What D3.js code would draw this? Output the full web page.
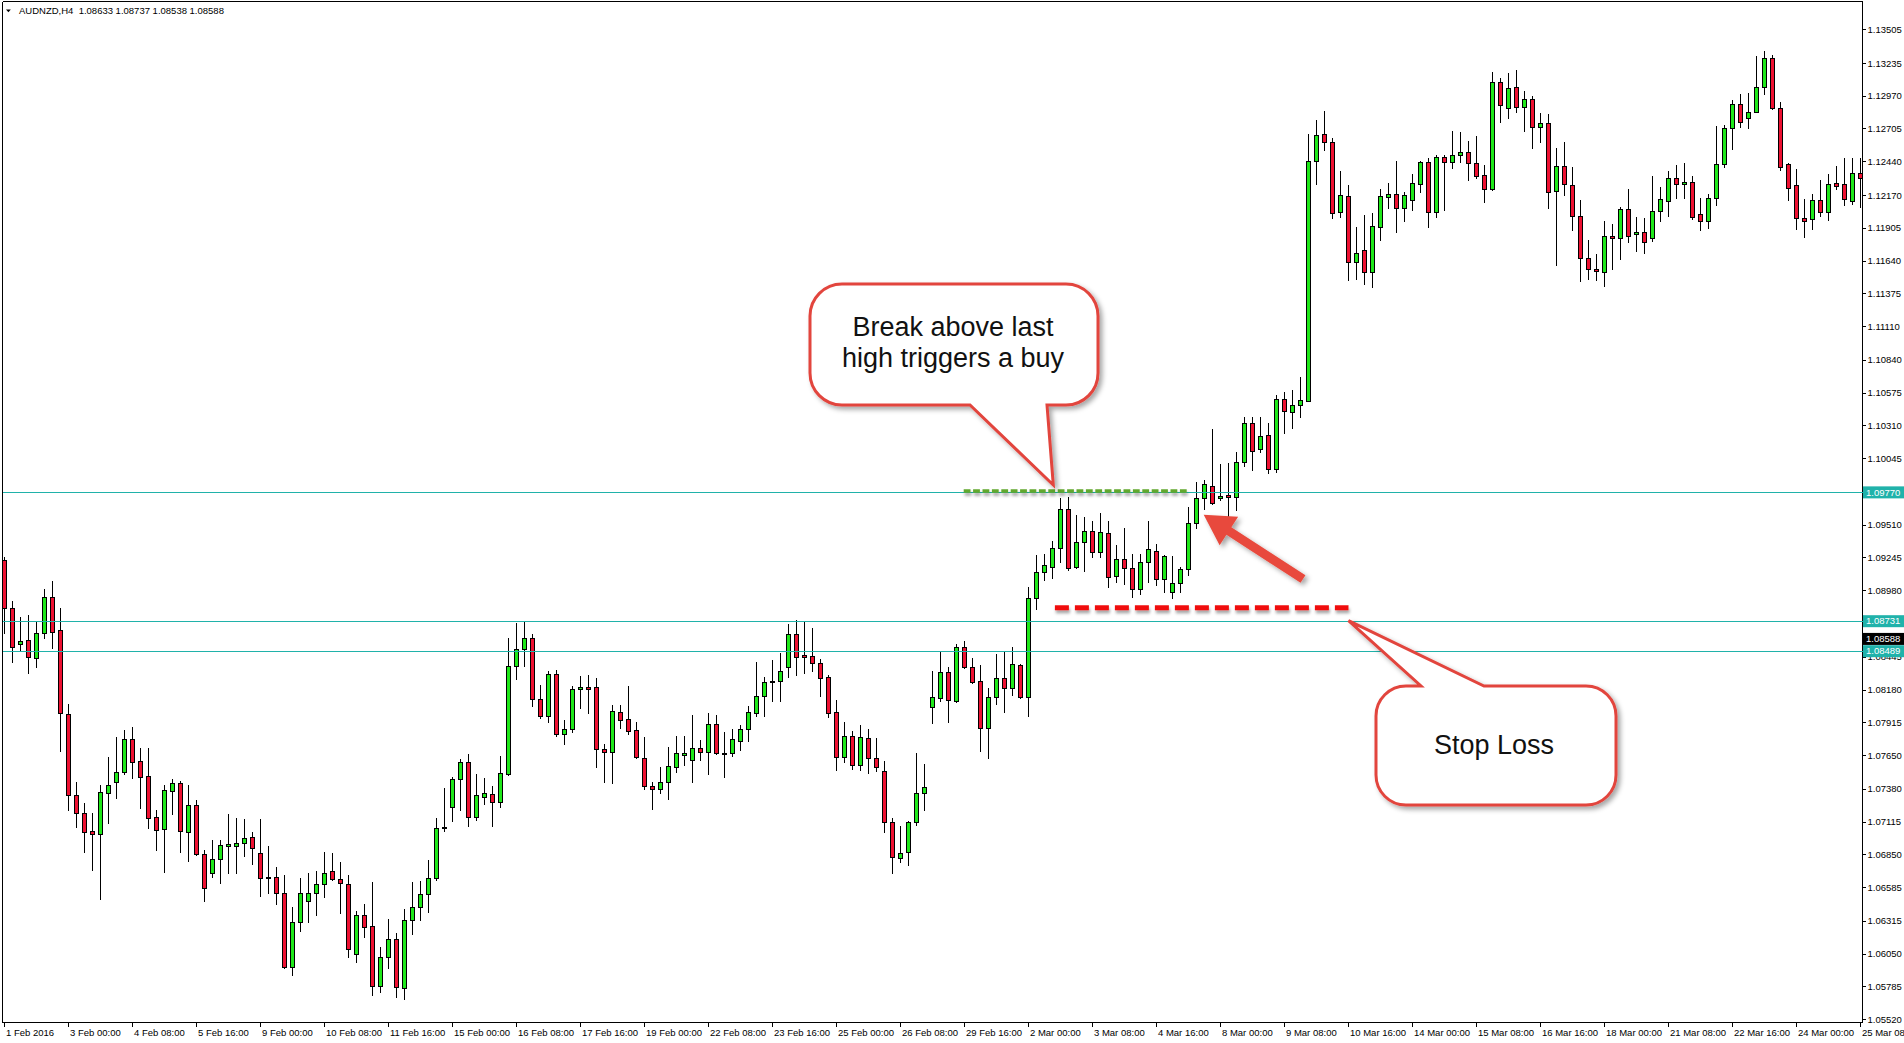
<!DOCTYPE html>
<html><head><meta charset="utf-8">
<script src="https://cdn.jsdelivr.net/npm/d3@7"></script>
<style>
html,body{margin:0;padding:0;background:#fff;overflow:hidden;}
svg{display:block;}
</style></head><body>
<svg id="chart" width="1904" height="1043"></svg>
<script>
// ---------------- data ----------------
const symbolTitle = "AUDNZD,H4";
const titleValues = ["1.08633", "1.08737", "1.08538", "1.08588"];

const open = [
1.09224,1.08834,1.08544,1.08576,1.08436,1.08632,1.08923,1.08659,1.07979,1.07328,
1.07180,1.07038,1.07011,1.07342,1.07430,1.07511,1.07780,1.07603,1.07482,1.07148,
1.07051,1.07363,1.07422,1.07032,1.07248,1.06850,1.06702,1.06809,1.06920,1.06920,
1.06944,1.06987,1.06858,1.06667,1.06664,1.06535,1.05943,1.06306,1.06476,1.06535,
1.06608,1.06715,1.06651,1.06608,1.06043,1.06360,1.06271,1.05790,1.06019,1.06164,
1.05769,1.06320,1.06422,1.06527,1.06656,1.07059,1.07229,1.07455,1.07592,1.07153,
1.07317,1.07334,1.07274,1.07500,1.08366,1.08503,1.08592,1.08100,1.07968,1.08302,
1.07818,1.07858,1.08181,1.08197,1.08197,1.07699,1.07672,1.08000,1.07946,1.07850,
1.07629,1.07403,1.07376,1.07430,1.07551,1.07653,1.07610,1.07712,1.07672,1.07898,
1.07667,1.07664,1.07764,1.07858,1.07992,1.08127,1.08237,1.08245,1.08358,1.08624,
1.08457,1.08452,1.08390,1.08277,1.08000,1.07637,1.07807,1.07570,1.07790,1.07624,
1.07524,1.07113,1.06817,1.06871,1.07113,1.07347,1.08040,1.08113,1.08323,1.08089,
1.08524,1.08358,1.08250,1.07866,1.08116,1.08269,1.08196,1.08377,1.08121,1.08922,
1.09130,1.09170,1.09318,1.09632,1.09170,1.09366,1.09460,1.09291,1.09439,1.09097,
1.09229,1.09164,1.08987,1.09210,1.09299,1.09068,1.08963,1.09043,1.09154,1.09527,
1.09721,1.09823,1.09721,1.09748,1.09734,1.10011,1.10326,1.10116,1.10232,1.09955,
1.10520,1.10420,1.10474,1.10509,1.12445,1.12657,1.12600,1.12028,1.12160,1.11630,
1.11724,1.11544,1.11913,1.12149,1.12173,1.12060,1.12128,1.12254,1.12437,1.12033,
1.12472,1.12431,1.12488,1.12512,1.12423,1.12329,1.12214,1.13077,1.12867,1.13036,
1.12881,1.12942,1.12719,1.12746,1.12203,1.12402,1.12249,1.11998,1.11663,1.11571,
1.11544,1.11837,1.11818,1.12055,1.11851,1.11867,1.11824,1.12042,1.12122,1.12302,
1.12254,1.12276,1.12015,1.11958,1.12141,1.12418,1.12706,1.12899,1.12792,1.12840,
1.13042,1.13270,1.12867,1.12418,1.12246,1.11985,1.11974,1.12125,1.12033,1.12262,
1.12254,1.12122,1.12343
];
const high = [
1.09251,1.08893,1.08767,1.08780,1.08727,1.08990,1.09055,1.08839,1.08060,1.07430,
1.07266,1.07180,1.07409,1.07635,1.07796,1.07853,1.07874,1.07705,1.07705,1.07205,
1.07409,1.07457,1.07441,1.07409,1.07285,1.06885,1.06965,1.06965,1.07172,1.07140,
1.07135,1.07027,1.07135,1.06917,1.06747,1.06683,1.06427,1.06661,1.06696,1.06715,
1.06871,1.06863,1.06790,1.06683,1.06392,1.06454,1.06629,1.06105,1.06328,1.06218,
1.06409,1.06629,1.06634,1.06804,1.07140,1.07387,1.07476,1.07619,1.07656,1.07495,
1.07468,1.07404,1.07646,1.08592,1.08716,1.08727,1.08624,1.08216,1.08329,1.08337,
1.07933,1.08208,1.08288,1.08296,1.08269,1.07740,1.08054,1.08059,1.08207,1.07919,
1.07798,1.07435,1.07556,1.07718,1.07804,1.07807,1.07973,1.07772,1.07987,1.07973,
1.07839,1.07860,1.07893,1.08046,1.08403,1.08282,1.08417,1.08471,1.08705,1.08740,
1.08726,1.08680,1.08430,1.08301,1.08092,1.07914,1.07847,1.07893,1.07858,1.07790,
1.07602,1.07140,1.07078,1.07118,1.07664,1.07583,1.08331,1.08484,1.08358,1.08546,
1.08570,1.08436,1.08377,1.08194,1.08463,1.08479,1.08519,1.08382,1.09009,1.09264,
1.09269,1.09377,1.09721,1.09735,1.09587,1.09573,1.09538,1.09600,1.09538,1.09345,
1.09479,1.09269,1.09272,1.09538,1.09353,1.09264,1.09259,1.09170,1.09654,1.09850,
1.09869,1.10280,1.10000,1.10010,1.10097,1.10380,1.10380,1.10380,1.10326,1.10555,
1.10581,1.10595,1.10702,1.12657,1.12773,1.12846,1.12630,1.12362,1.12249,1.11912,
1.12007,1.12020,1.12216,1.12267,1.12442,1.12195,1.12337,1.12442,1.12464,1.12491,
1.12491,1.12684,1.12679,1.12604,1.12647,1.12410,1.13163,1.13109,1.13155,1.13176,
1.13007,1.12967,1.12832,1.12821,1.12544,1.12598,1.12394,1.12128,1.11805,1.11689,
1.11958,1.11931,1.12068,1.12216,1.11993,1.11980,1.12321,1.12232,1.12362,1.12410,
1.12429,1.12324,1.12141,1.12173,1.12727,1.12733,1.12934,1.12980,1.12988,1.13289,
1.13330,1.13297,1.12921,1.12425,1.12378,1.12136,1.12173,1.12289,1.12337,1.12402,
1.12464,1.12464,1.12469
];
const low = [
1.08632,1.08398,1.08490,1.08315,1.08364,1.08597,1.08517,1.07686,1.07207,1.07073,
1.06866,1.06723,1.06489,1.07105,1.07307,1.07495,1.07463,1.07221,1.07065,1.06885,
1.06710,1.07178,1.06871,1.06798,1.06844,1.06476,1.06664,1.06621,1.06696,1.06702,
1.06839,1.06769,1.06516,1.06535,1.06446,1.05935,1.05876,1.06231,1.06306,1.06360,
1.06508,1.06643,1.06374,1.06024,1.05984,1.06185,1.05720,1.05742,1.05935,1.05701,
1.05683,1.06204,1.06320,1.06387,1.06643,1.07041,1.07119,1.07207,1.07081,1.07127,
1.07253,1.07081,1.07234,1.07490,1.08264,1.08372,1.08049,1.07947,1.07914,1.07807,
1.07740,1.07834,1.08027,1.07987,1.07557,1.07430,1.07422,1.07866,1.07825,1.07629,
1.07376,1.07220,1.07349,1.07293,1.07516,1.07570,1.07435,1.07610,1.07495,1.07660,
1.07476,1.07645,1.07691,1.07764,1.07968,1.07968,1.08086,1.08086,1.08282,1.08301,
1.08315,1.08331,1.08129,1.07960,1.07530,1.07597,1.07535,1.07530,1.07503,1.07521,
1.07027,1.06704,1.06785,1.06763,1.07086,1.07207,1.07906,1.08086,1.07919,1.08081,
1.08350,1.08229,1.07686,1.07629,1.08067,1.08000,1.08135,1.08108,1.07968,1.08828,
1.09062,1.09076,1.09210,1.09143,1.09156,1.09135,1.09251,1.09251,1.09009,1.09049,
1.09027,1.08928,1.08947,1.09049,1.09022,1.08968,1.08920,1.08968,1.09103,1.09484,
1.09632,1.09675,1.09708,1.09573,1.09627,1.09984,1.09950,1.10097,1.09928,1.09936,
1.10251,1.10291,1.10380,1.10505,1.12257,1.12531,1.11985,1.11993,1.11482,1.11490,
1.11447,1.11428,1.11805,1.12066,1.11872,1.11958,1.12047,1.12195,1.11912,1.11993,
1.12047,1.12388,1.12437,1.12289,1.12302,1.12114,1.12208,1.12760,1.12792,1.12840,
1.12684,1.12550,1.12598,1.12066,1.11603,1.12168,1.11886,1.11477,1.11490,1.11482,
1.11437,1.11571,1.11652,1.11791,1.11719,1.11703,1.11797,1.11961,1.12001,1.12141,
1.12141,1.11974,1.11886,1.11904,1.12087,1.12397,1.12539,1.12719,1.12711,1.12835,
1.12983,1.12860,1.12370,1.12128,1.11894,1.11832,1.11894,1.12001,1.11966,1.12216,
1.12087,1.12093,1.12074
];
const close = [
1.08834,1.08525,1.08573,1.08444,1.08632,1.08923,1.08646,1.07987,1.07328,1.07180,
1.07032,1.07011,1.07350,1.07409,1.07511,1.07780,1.07597,1.07476,1.07145,1.07043,
1.07366,1.07422,1.07038,1.07248,1.06850,1.06575,1.06812,1.06925,1.06930,1.06946,
1.06979,1.06898,1.06656,1.06661,1.06535,1.05943,1.06306,1.06535,1.06535,1.06608,
1.06704,1.06648,1.06616,1.06091,1.06360,1.06266,1.05790,1.06019,1.06164,1.05782,
1.06320,1.06422,1.06527,1.06656,1.07059,1.07075,1.07455,1.07592,1.07153,1.07328,
1.07344,1.07269,1.07503,1.08366,1.08503,1.08592,1.08100,1.07968,1.08302,1.07818,
1.07861,1.08181,1.08197,1.08181,1.07699,1.07672,1.08006,1.07938,1.07847,1.07637,
1.07403,1.07376,1.07430,1.07562,1.07664,1.07664,1.07712,1.07672,1.07898,1.07664,
1.07661,1.07777,1.07858,1.07995,1.08127,1.08242,1.08245,1.08331,1.08624,1.08444,
1.08444,1.08390,1.08269,1.07987,1.07637,1.07807,1.07570,1.07793,1.07624,1.07556,
1.07113,1.06830,1.06865,1.07113,1.07347,1.07395,1.08116,1.08323,1.08092,1.08524,
1.08358,1.08242,1.07866,1.08116,1.08269,1.08196,1.08382,1.08121,1.08920,1.09130,
1.09183,1.09318,1.09632,1.09156,1.09366,1.09460,1.09291,1.09447,1.09084,1.09229,
1.09164,1.08990,1.09210,1.09310,1.09068,1.09256,1.09043,1.09154,1.09527,1.09721,
1.09834,1.09681,1.09743,1.09729,1.10017,1.10326,1.10105,1.10224,1.09955,1.10520,
1.10428,1.10474,1.10512,1.12442,1.12652,1.12598,1.12025,1.12165,1.11630,1.11697,
1.11549,1.11918,1.12160,1.12176,1.12060,1.12168,1.12267,1.12437,1.12033,1.12472,
1.12437,1.12491,1.12512,1.12423,1.12324,1.12214,1.13077,1.12894,1.13028,1.12881,
1.12942,1.12719,1.12746,1.12189,1.12402,1.12254,1.12001,1.11657,1.11568,1.11558,
1.11837,1.11818,1.12055,1.11840,1.11872,1.11786,1.12039,1.12136,1.12302,1.12254,
1.12276,1.11993,1.11958,1.12141,1.12418,1.12706,1.12899,1.12760,1.12835,1.13036,
1.13270,1.12867,1.12397,1.12222,1.11980,1.11961,1.12125,1.12033,1.12254,1.12243,
1.12133,1.12343,1.12308
];

const xTickLabels = [
"1 Feb 2016","3 Feb 00:00","4 Feb 08:00","5 Feb 16:00","9 Feb 00:00","10 Feb 08:00",
"11 Feb 16:00","15 Feb 00:00","16 Feb 08:00","17 Feb 16:00","19 Feb 00:00","22 Feb 08:00",
"23 Feb 16:00","25 Feb 00:00","26 Feb 08:00","29 Feb 16:00","2 Mar 00:00","3 Mar 08:00",
"4 Mar 16:00","8 Mar 00:00","9 Mar 08:00","10 Mar 16:00","14 Mar 00:00","15 Mar 08:00",
"16 Mar 16:00","18 Mar 00:00","21 Mar 08:00","22 Mar 16:00","24 Mar 00:00","25 Mar 08:00"
];
const yTickValues = [
1.13505,1.13235,1.12970,1.12705,1.12440,1.12170,1.11905,1.11640,1.11375,1.11110,
1.10840,1.10575,1.10310,1.10045,1.09775,1.09510,1.09245,1.08980,1.08715,1.08445,
1.08180,1.07915,1.07650,1.07380,1.07115,1.06850,1.06585,1.06315,1.06050,1.05785,1.05520
];
const levelLines = [1.09770, 1.08731, 1.08489];
const bidPrice = 1.08588;
const breakLevel = 1.09781;
const stopLevel = 1.08840;
const calloutTexts = [["Break above last", "high triggers a buy"], ["Stop Loss"]];

// ---------------- layout ----------------
const W = 1904, H = 1043;
const plotLeft = 2.5, plotTop = 1.5, axisX = 1862.5, axisY = 1022.5;
const svg = d3.select("#chart");
const FONT = "'Liberation Sans', Arial, sans-serif";
const BULL = "#1fe81a", BEAR = "#ee1132", TEAL = "#20b2aa";

const x = d3.scaleLinear().domain([0, open.length - 1]).range([4.5, 1860.5]);
const y = d3.scaleLinear().domain([1.05520, 1.13505]).range([1019.3, 29.3]);

const defs = svg.append("defs");
const sh = defs.append("filter").attr("id", "shadow").attr("x", "-20%").attr("y", "-20%").attr("width", "150%").attr("height", "150%");
sh.append("feDropShadow").attr("dx", 3).attr("dy", 3).attr("stdDeviation", 2.5).attr("flood-color", "#000").attr("flood-opacity", 0.35);
const sh2 = defs.append("filter").attr("id", "shadow2").attr("filterUnits", "userSpaceOnUse")
  .attr("x", 0).attr("y", 0).attr("width", W).attr("height", H);
sh2.append("feDropShadow").attr("dx", 1).attr("dy", 3).attr("stdDeviation", 1.8).attr("flood-color", "#000").attr("flood-opacity", 0.35);

// frame
svg.append("rect").attr("width", W).attr("height", H).attr("fill", "#fff");
const frame = svg.append("g").attr("stroke", "#000").attr("stroke-width", 1).attr("shape-rendering", "crispEdges");
frame.append("line").attr("x1", plotLeft).attr("x2", plotLeft).attr("y1", plotTop).attr("y2", axisY);
frame.append("line").attr("x1", plotLeft).attr("x2", axisX).attr("y1", plotTop).attr("y2", plotTop);
frame.append("line").attr("x1", axisX).attr("x2", axisX).attr("y1", plotTop).attr("y2", axisY);
frame.append("line").attr("x1", plotLeft).attr("x2", axisX).attr("y1", axisY).attr("y2", axisY);

// title
svg.append("path").attr("d", "M6,9.5 L10.8,9.5 L8.4,12.3 Z").attr("fill", "#000");
svg.append("text").attr("x", 19).attr("y", 13.5).attr("font-family", FONT).attr("font-size", 9.5).attr("fill", "#000")
  .attr("xml:space", "preserve")
  .text(symbolTitle + "  " + titleValues.join(" "));

// candles
const bars = d3.range(open.length);
const cg = svg.append("g").attr("shape-rendering", "crispEdges");
cg.selectAll("line.wick").data(bars).join("line").attr("class", "wick")
  .attr("x1", i => x(i)).attr("x2", i => x(i))
  .attr("y1", i => Math.round(y(high[i]))).attr("y2", i => Math.round(y(low[i])) + 1)
  .attr("stroke", "#000").attr("stroke-width", 1);
cg.selectAll("rect.body").data(bars).join("rect").attr("class", "body")
  .attr("x", i => x(i) - 2).attr("width", 4)
  .attr("y", i => Math.round(y(Math.max(open[i], close[i]))) + 0.5)
  .attr("height", i => Math.max(0, Math.round(y(Math.min(open[i], close[i]))) - Math.round(y(Math.max(open[i], close[i])))))
  .attr("fill", i => close[i] > open[i] ? BULL : (close[i] < open[i] ? BEAR : "#000"))
  .attr("stroke", "#000").attr("stroke-width", 1);

// horizontal level lines
svg.append("g").attr("shape-rendering", "crispEdges").selectAll("line").data(levelLines).join("line")
  .attr("x1", plotLeft).attr("x2", axisX)
  .attr("y1", d => Math.round(y(d)) + 0.5).attr("y2", d => Math.round(y(d)) + 0.5)
  .attr("stroke", TEAL).attr("stroke-width", 1);

// right axis
const yAxis = d3.axisRight(y).tickValues(yTickValues).tickFormat(d3.format(".5f")).tickSize(3).tickPadding(2);
const ya = svg.append("g").attr("transform", `translate(${axisX},0)`).call(yAxis);
ya.select(".domain").remove();
ya.selectAll("line").attr("stroke", "#000").attr("shape-rendering", "crispEdges");
ya.selectAll("text").attr("font-family", FONT).attr("font-size", 9.5).attr("fill", "#000").attr("dy", "0.34em");

// bottom axis
const xTickIdx = xTickLabels.map((_, i) => i * 8);
const xAxis = d3.axisBottom(x).tickValues(xTickIdx).tickFormat((d, i) => xTickLabels[i]).tickSize(4);
const xa = svg.append("g").attr("transform", `translate(-1,${axisY})`).call(xAxis);
xa.select(".domain").remove();
xa.selectAll("line").attr("stroke", "#000").attr("shape-rendering", "crispEdges");
xa.selectAll("text").attr("font-family", FONT).attr("font-size", 9.5).attr("fill", "#000")
  .attr("text-anchor", "start").attr("x", 2).attr("y", 13).attr("dy", 0);

// axis price labels
function priceTag(v, bg) {
  const yy = y(v);
  svg.append("rect").attr("x", 1863).attr("y", yy - 6).attr("width", 41).attr("height", 12).attr("fill", bg);
  svg.append("text").attr("x", 1866).attr("y", yy).attr("dy", "0.34em").attr("font-family", FONT).attr("font-size", 9.5)
    .attr("fill", "#fff").text(d3.format(".5f")(v));
}
levelLines.forEach(v => priceTag(v, TEAL));
priceTag(bidPrice, "#000");

// ---------------- annotations ----------------
// green dashed break line
svg.append("line").attr("x1", x(119.9)).attr("x2", x(147.9)).attr("y1", y(breakLevel)).attr("y2", y(breakLevel))
  .attr("stroke", "#62a82e").attr("stroke-width", 3.5).attr("stroke-dasharray", "6.8,2.6").attr("filter", "url(#shadow2)");
// red dashed stop line
svg.append("line").attr("x1", x(131.3)).attr("x2", x(168)).attr("y1", y(stopLevel)).attr("y2", y(stopLevel))
  .attr("stroke", "#f01010").attr("stroke-width", 5).attr("stroke-dasharray", "14,6").attr("filter", "url(#shadow2)");

// callout builder
function bubble(x0, y0, x1, y1, r, ptr) {
  const p = d3.path();
  p.moveTo(x0 + r, y0);
  if (ptr.side === "top") { p.lineTo(ptr.a, y0); p.lineTo(ptr.tx, ptr.ty); p.lineTo(ptr.b, y0); }
  p.lineTo(x1 - r, y0);
  p.arcTo(x1, y0, x1, y0 + r, r);
  p.lineTo(x1, y1 - r);
  p.arcTo(x1, y1, x1 - r, y1, r);
  if (ptr.side === "bottom") { p.lineTo(ptr.b, y1); p.lineTo(ptr.tx, ptr.ty); p.lineTo(ptr.a, y1); }
  p.lineTo(x0 + r, y1);
  p.arcTo(x0, y1, x0, y1 - r, r);
  p.lineTo(x0, y0 + r);
  p.arcTo(x0, y0, x0 + r, y0, r);
  p.closePath();
  return p.toString();
}
const BORDER = "#e2453e";
svg.append("path").attr("d", bubble(810, 284, 1098, 405, 32, {side: "bottom", a: 970, b: 1047, tx: x(131.1), ty: y(1.09829)}))
  .attr("fill", "#fff").attr("stroke", BORDER).attr("stroke-width", 3).attr("stroke-linejoin", "miter").attr("filter", "url(#shadow)");
svg.append("text").attr("x", 953).attr("y", 336).attr("text-anchor", "middle").attr("font-family", FONT).attr("font-size", 27)
  .attr("fill", "#111").text(calloutTexts[0][0]);
svg.append("text").attr("x", 953).attr("y", 367).attr("text-anchor", "middle").attr("font-family", FONT).attr("font-size", 27)
  .attr("fill", "#111").text(calloutTexts[0][1]);

svg.append("path").attr("d", bubble(1376, 686, 1616, 805, 30, {side: "top", a: 1421, b: 1484, tx: x(168), ty: y(stopLevel) + 13}))
  .attr("fill", "#fff").attr("stroke", BORDER).attr("stroke-width", 3).attr("filter", "url(#shadow)");
svg.append("text").attr("x", 1494).attr("y", 754).attr("text-anchor", "middle").attr("font-family", FONT).attr("font-size", 27)
  .attr("fill", "#111").text(calloutTexts[1][0]);

// red arrow
(function () {
  const tail = [1303, 579], tip = [x(149.9), y(1.09590)];
  const dx = tip[0] - tail[0], dy = tip[1] - tail[1], L = Math.hypot(dx, dy);
  const ux = dx / L, uy = dy / L, px = -uy, py = ux;
  const headL = 30, headW = 17, shaftW = 4.5;
  const bx = tip[0] - ux * headL, by = tip[1] - uy * headL;
  const pts = [
    [tail[0] + px * shaftW, tail[1] + py * shaftW],
    [bx + px * shaftW, by + py * shaftW],
    [bx + px * headW, by + py * headW],
    tip,
    [bx - px * headW, by - py * headW],
    [bx - px * shaftW, by - py * shaftW],
    [tail[0] - px * shaftW, tail[1] - py * shaftW]
  ];
  svg.append("path").attr("d", d3.line()(pts) + "Z").attr("fill", "#e84a3c").attr("filter", "url(#shadow)");
})();
</script>
</body></html>
